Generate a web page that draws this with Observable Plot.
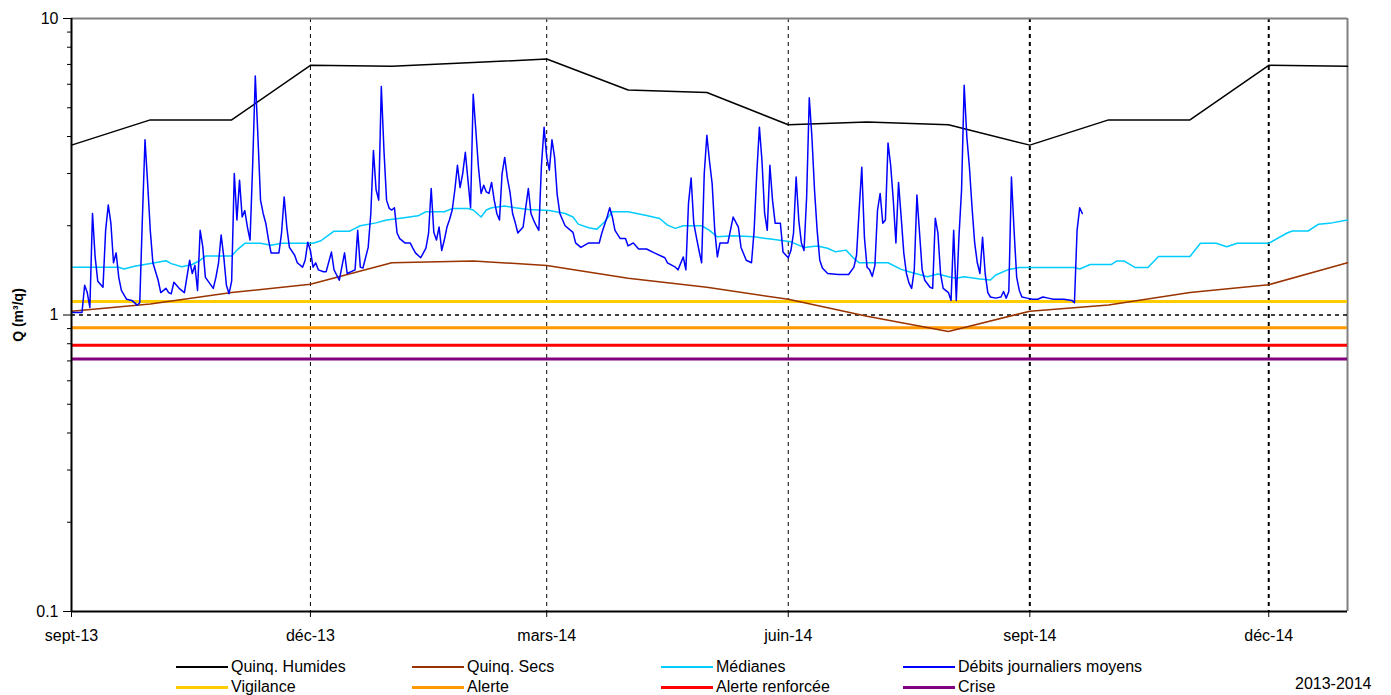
<!DOCTYPE html>
<html><head><meta charset="utf-8">
<script src="https://cdn.jsdelivr.net/npm/d3@7"></script>
<script src="https://cdn.jsdelivr.net/npm/@observablehq/plot@0.6"></script>
<style>
body{margin:0;background:#fff;font-family:"Liberation Sans",Arial,sans-serif;}
#wrap{position:relative;width:1391px;height:695px;overflow:hidden;}
#legend{position:absolute;left:0;top:650px;width:1391px;height:45px;}
.item{position:absolute;font-size:16px;line-height:18px;height:18px;display:flex;align-items:center;white-space:nowrap;color:#000;}
.sw{display:inline-block;width:52px;margin-right:3px;}
#period{position:absolute;left:1295px;top:25px;font-size:16px;line-height:18px;}
</style></head><body><div id="wrap"><div id="chart"></div><div id="legend"></div></div>
<script>
// ---- axes / categories ----
const tickDates = ["2013-09-01","2013-12-01","2014-03-01","2014-06-01","2014-09-01","2014-12-01"];
const tickLabels = ["sept-13","déc-13","mars-14","juin-14","sept-14","déc-14"];
const xStart = "2013-09-01", xEnd = "2014-12-31";
const yMajor = [0.1, 1, 10];
const yMinor = [0.2,0.3,0.4,0.5,0.6,0.7,0.8,0.9,2,3,4,5,6,7,8,9];

// ---- Quinq. Humides (monthly) ----
const humDates = ["2013-09-01","2013-10-01","2013-11-01","2013-12-01","2014-01-01","2014-02-01","2014-03-01","2014-04-01","2014-05-01","2014-06-01","2014-07-01","2014-08-01","2014-09-01","2014-10-01","2014-11-01","2014-12-01","2014-12-31"];
const humValues = [3.74,4.55,4.55,6.95,6.9,7.1,7.3,5.74,5.63,4.38,4.48,4.38,3.74,4.55,4.55,6.95,6.9];

// ---- Quinq. Secs (monthly) ----
const secDates = humDates;
const secValues = [1.03,1.09,1.19,1.27,1.5,1.52,1.47,1.33,1.24,1.13,0.99,0.88,1.03,1.08,1.19,1.265,1.5];

// ---- Médianes (day offset from 2013-09-01, value) ----
const medDays = [0,18,20,24,29,36,38,42,46,49,51,61,63,66,72,76,80,92,95,97,100,106,110,116,120,126,132,135,142,145,151,153,156,158,160,165,169,174,182,188,191,193,197,200,203,206,212,219,224,227,230,233,240,243,246,252,260,267,274,279,284,288,291,295,298,300,311,316,319,326,330,334,337,340,346,350,352,357,361,382,384,388,396,398,401,405,410,414,426,430,436,440,444,456,463,465,471,475,480,486];
const medValues = [1.448,1.448,1.43,1.46,1.485,1.524,1.49,1.454,1.48,1.53,1.58,1.58,1.655,1.745,1.745,1.72,1.745,1.745,1.78,1.835,1.918,1.918,2.0,2.045,2.09,2.125,2.16,2.23,2.23,2.285,2.285,2.26,2.14,2.26,2.3,2.33,2.3,2.27,2.25,2.2,2.14,2.025,1.97,1.945,2.06,2.23,2.23,2.165,2.115,2.01,1.96,2.0,2.0,1.93,1.835,1.85,1.835,1.8,1.765,1.69,1.71,1.68,1.633,1.655,1.552,1.5,1.5,1.425,1.4,1.345,1.374,1.345,1.33,1.345,1.322,1.312,1.364,1.425,1.447,1.447,1.43,1.48,1.48,1.52,1.52,1.447,1.447,1.576,1.576,1.745,1.745,1.7,1.745,1.745,1.89,1.92,1.92,2.025,2.045,2.09];

// ---- Débits journaliers moyens (day offset, value) ----
const flowDays = [0,4,5,6,7,8,9,10,12,13,14,15,16,17,18,19,21,23,25,26,27,28,29,30,31,33,34,36,37,38,39,41,43,45,46,47,48,49,50,51,54,55,56,57,58,59,60,61,62,63,64,65,66,67,68,69,70,71,72,73,74,75,76,79,80,81,82,83,85,86,88,89,90,91,92,93,94,96,
97,99,100,102,104,105,108,109,110,111,113,114,115,116,117,118,119,120,121,122,123,124,125,127,129,130,131,133,135,136,137,138,139,140,141,142,143,144,145,146,147,148,149,150,151,152,153,154,155,156,157,158,159,160,161,162,163,164,165,166,167,168,169,170,172,173,174,175,176,177,178,179,180,181,182,183,184,185,186,188,191,
192,194,197,201,202,204,205,206,207,209,211,212,214,216,219,222,226,227,230,231,233,234,235,236,237,238,239,240,241,242,243,244,245,246,247,249,250,252,254,255,257,259,260,261,262,263,264,265,266,267,268,270,271,273,274,275,276,277,278,279,280,281,282,283,284,285,286,
288,292,296,298,299,300,301,302,303,304,305,306,307,308,309,310,311,312,313,314,315,316,317,318,319,320,321,322,323,324,325,327,328,329,330,331,332,334,335,336,337,338,339,340,341,342,343,344,345,346,347,348,349,350,352,354,355,356,357,358,359,360,361,362,364,366,368,370,372,374,378,381,382,383,384,385];
const flowValues = [1.02,1.02,1.26,1.19,1.06,2.2,1.57,1.3,1.24,1.93,2.35,2.04,1.5,1.62,1.34,1.21,1.13,1.12,1.08,1.1,2.12,3.9,2.78,1.93,1.5,1.31,1.19,1.23,1.19,1.18,1.29,1.23,1.19,1.53,1.38,1.47,1.21,1.93,1.7,1.34,1.23,1.34,1.5,1.86,1.57,1.26,1.18,1.3,3.0,2.09,2.85,2.14,2.25,1.98,1.79,3.2,6.4,4.0,2.44,2.2,2.04,1.8,1.62,1.62,1.89,2.5,1.98,1.69,1.59,1.5,1.45,1.53,1.76,1.65,1.45,1.5,1.42,1.4,
1.4,1.63,1.42,1.31,1.62,1.38,1.42,1.93,1.45,1.44,1.69,2.2,3.59,2.65,2.44,5.9,3.6,2.44,2.29,2.26,2.3,1.89,1.81,1.75,1.75,1.68,1.62,1.56,1.68,1.89,2.67,1.9,1.79,1.98,1.65,1.79,1.98,2.1,2.26,2.64,3.2,2.69,3.0,3.54,2.85,2.3,5.55,4.2,3.15,2.57,2.74,2.6,2.57,2.8,2.44,2.2,2.09,3.0,3.4,2.9,2.6,2.2,2.05,1.89,1.98,2.3,2.67,2.2,2.09,2.0,1.93,3.2,4.3,3.4,3.08,3.9,3.4,2.54,2.2,2.0,1.9,
1.75,1.69,1.75,1.75,1.89,2.14,2.3,2.14,1.93,1.81,1.81,1.71,1.75,1.67,1.67,1.62,1.56,1.5,1.45,1.42,1.57,1.42,2.38,2.9,2.04,1.83,1.65,1.5,3.0,4.04,3.3,2.78,1.93,1.57,1.75,1.75,1.75,2.14,1.98,1.69,1.53,1.5,1.93,3.0,4.3,3.3,2.2,1.93,3.2,2.44,2.04,2.04,1.63,1.56,1.65,1.89,2.92,2.09,1.75,1.65,2.5,5.4,4.0,2.64,1.93,1.53,1.44,
1.38,1.37,1.37,1.45,1.59,2.26,3.15,1.83,1.45,1.42,1.35,1.47,2.26,2.57,2.04,2.09,3.8,3.2,2.44,1.75,2.8,2.14,1.62,1.38,1.28,1.23,1.42,2.54,1.89,1.42,1.31,1.24,1.23,2.12,1.89,1.38,1.23,1.19,1.12,1.93,1.12,1.83,2.64,5.95,4.0,3.15,2.3,1.75,1.5,1.38,1.83,1.38,1.19,1.15,1.14,1.15,1.2,1.14,1.2,2.92,1.93,1.34,1.21,1.15,1.14,1.13,1.13,1.15,1.14,1.13,1.13,1.12,1.1,1.93,2.3,2.2];

// ---- Seuils ----
const seuilNoms = ["Vigilance","Alerte","Alerte renforcée","Crise"];
const seuilValeurs = [1.11, 0.905, 0.79, 0.71];
const seuilCouleurs = ["#FFCC00","#FF9900","#FF0000","#800080"];

const seriesNoms = ["Quinq. Humides","Quinq. Secs","Médianes","Débits journaliers moyens"];
const seriesCouleurs = ["#000000","#993300","#00CCFF","#0000FF"];

// ---- build ----
const parse = d3.utcParse("%Y-%m-%d");
const t0 = parse(xStart), t1 = parse(xEnd);
const byDay = n => d3.utcDay.offset(t0, n);
const hum = humDates.map((d,i)=>({date: parse(d), v: humValues[i]}));
const sec = secDates.map((d,i)=>({date: parse(d), v: secValues[i]}));
const med = medDays.map((n,i)=>({date: byDay(n), v: medValues[i]}));
const flow = flowDays.map((n,i)=>({date: byDay(n), v: flowValues[i]}));
const ticks = tickDates.map(parse);
const labelOf = new Map(ticks.map((d,i)=>[+d, tickLabels[i]]));
const font = '"Liberation Sans", Arial, sans-serif';

const marks = [
  Plot.ruleX(ticks.slice(1), {stroke: "#000", strokeDasharray: "4,4", strokeWidth: (d,i)=> i >= 3 ? 2 : 1}),
  Plot.ruleY([10], {stroke: "#808080", strokeWidth: 2}),
  Plot.ruleX([t1], {stroke: "#808080", strokeWidth: 2}),
  Plot.ruleY([1], {stroke: "#000", strokeDasharray: "4,4", strokeWidth: 1.5}),
];
seuilValeurs.forEach((v,i)=>marks.push(Plot.ruleY([v], {stroke: seuilCouleurs[i], strokeWidth: 3})));
marks.push(
  Plot.line(hum, {x: "date", y: "v", stroke: seriesCouleurs[0], strokeWidth: 1.5}),
  Plot.line(sec, {x: "date", y: "v", stroke: seriesCouleurs[1], strokeWidth: 1.5}),
  Plot.line(med, {x: "date", y: "v", stroke: seriesCouleurs[2], strokeWidth: 1.5}),
  Plot.line(flow, {x: "date", y: "v", stroke: seriesCouleurs[3], strokeWidth: 1.5}),
  Plot.ruleX([t0], {stroke: "#000", strokeWidth: 2}),
  Plot.ruleY([0.1], {stroke: "#000", strokeWidth: 2}),
  Plot.axisX({ticks: ticks, tickFormat: d => labelOf.get(+d), tickSize: 6, tickPadding: 12, fontSize: 16, label: null}),
  Plot.axisY({ticks: yMajor, tickFormat: d => String(d), tickSize: 8, tickPadding: 5, fontSize: 16, label: null}),
  Plot.axisY({ticks: yMinor, tickFormat: () => "", tickSize: 4, label: null}),
  Plot.text(["Q (m³/q)"], {frameAnchor: "left", textAnchor: "middle", rotate: -90, dx: -53, fontWeight: "bold", fontSize: 14})
);

const chart = Plot.plot({
  width: 1391, height: 650,
  marginLeft: 71, marginRight: 44, marginTop: 18, marginBottom: 39,
  style: {fontFamily: font, background: "#fff", color: "#000"},
  x: {type: "utc", domain: [t0, t1]},
  y: {type: "log", domain: [0.1, 10]},
  marks
});
document.getElementById("chart").appendChild(chart);

// ---- legend ----
const legend = document.getElementById("legend");
const colX = [176, 412, 661, 903];
const rows = [
  seriesNoms.map((n,i)=>({n, c: seriesCouleurs[i], w: 2})),
  seuilNoms.map((n,i)=>({n, c: seuilCouleurs[i], w: 3}))
];
rows.forEach((row, r) => row.forEach((it, c) => {
  const div = document.createElement("div");
  div.className = "item";
  div.style.left = colX[c] + "px";
  div.style.top = (8 + r * 20) + "px";
  const sw = document.createElement("span");
  sw.className = "sw";
  sw.style.borderTop = it.w + "px solid " + it.c;
  div.appendChild(sw);
  div.appendChild(document.createTextNode(it.n));
  legend.appendChild(div);
}));
const per = document.createElement("div");
per.id = "period"; per.textContent = "2013-2014";
legend.appendChild(per);
</script></body></html>
